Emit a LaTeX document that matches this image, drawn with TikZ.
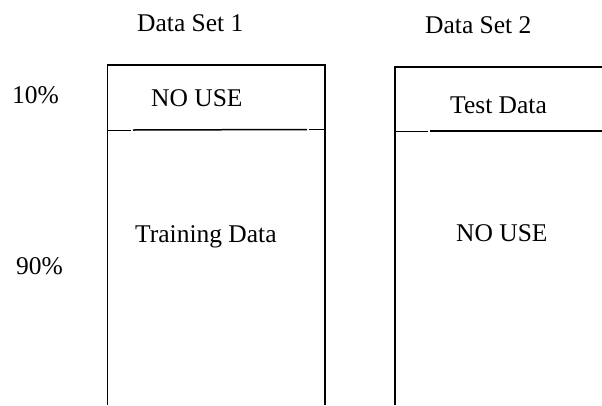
\documentclass[tikz,border=0pt]{standalone}
\usepackage{fontspec}
\setmainfont{Liberation Serif}
\begin{document}
\begin{tikzpicture}[x=1pt,y=-1pt,
  lbl/.style={anchor=base west,inner sep=0pt,font=\fontsize{25.5}{30}\selectfont},
  boxline/.style={line width=1.5pt,black}]
\useasboundingbox (0,0) rectangle (602,405);
% Box 1
\draw[boxline] (107.5,405) -- (107.5,65) -- (325,65) -- (325,405);
\draw[boxline] (107.5,130.5) -- (131,130.5);
\draw[boxline] (133,130) -- (307,129.5);
\draw[boxline] (309,129.5) -- (325,129.5);
% Box 2
\draw[boxline] (395,405) -- (395,67) -- (603,67);
\draw[boxline] (395,131.5) -- (428,131.5);
\draw[boxline] (430,131) -- (603,131);
% Texts
\node[lbl] (ds1) at (137,31.7) {Data Set 1};
\node[lbl] (ds2) at (425,33) {Data Set 2};
\node[lbl] (p10) at (12,103) {10\%};
\node[lbl] (p90) at (16,274) {90\%};
\node[lbl] (nouse1) at (151,106) {NO USE};
\node[lbl] (train) at (135,242.7) {Training Data};
\node[lbl] (test) at (450,113) {Test Data};
\node[lbl] (nouse2) at (456,241.7) {NO USE};
\end{tikzpicture}
\end{document}
